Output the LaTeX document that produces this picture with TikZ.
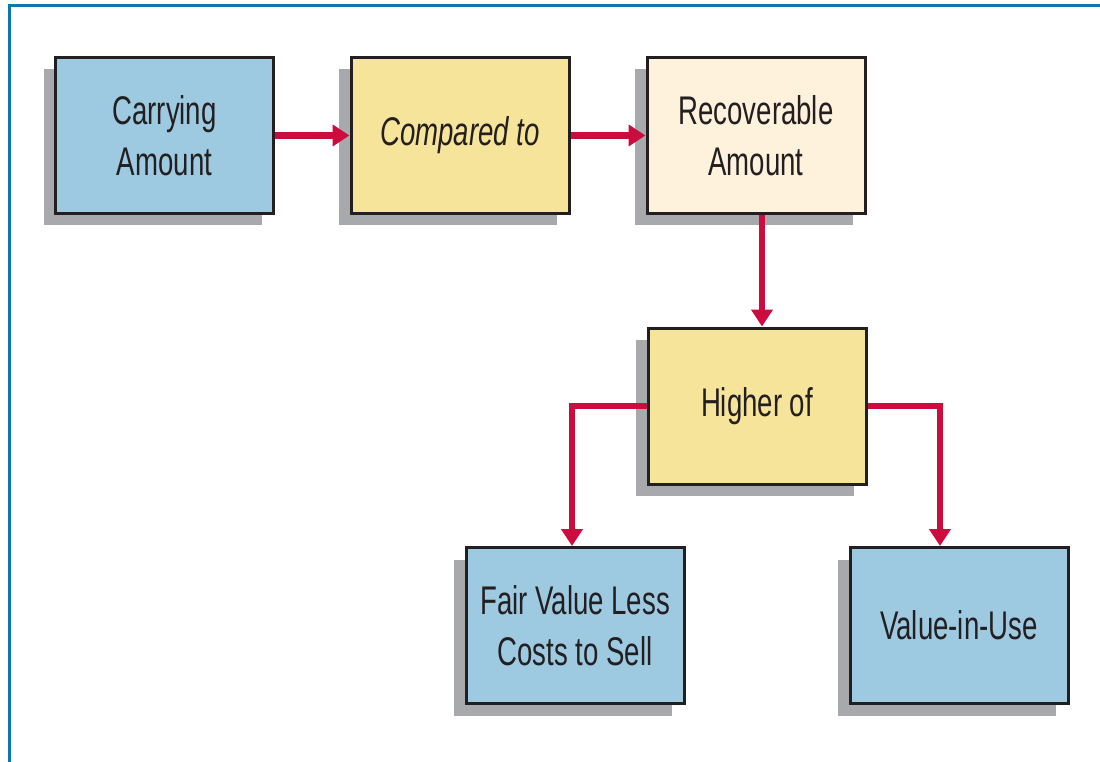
\documentclass[tikz,border=0pt]{standalone}
\usepackage{fontspec}
\setmainfont{Liberation Sans}[FakeStretch=0.69]
\usetikzlibrary{arrows.meta,shadows}
\definecolor{frameBlue}{HTML}{0A78AE}
\definecolor{boxBlue}{HTML}{9DC9E1}
\definecolor{boxYellow}{HTML}{F5E49A}
\definecolor{boxCream}{HTML}{FEF2DC}
\definecolor{boxLine}{HTML}{231F20}
\definecolor{shadowGrey}{HTML}{A7A9AC}
\definecolor{flowRed}{HTML}{CC0C3F}

\begin{document}
\begin{tikzpicture}[x=1pt, y=-1pt,
	box/.style={draw=boxLine, line width=3pt, minimum width=218pt, minimum height=156pt,
		align=center, text=boxLine, font=\fontsize{40}{51}\selectfont,
		drop shadow={shadow xshift=-12pt, shadow yshift=-12pt, fill=shadowGrey, opacity=1}},
	flow/.style={draw=flowRed, line width=6.5pt, -{Triangle[length=17pt,width=21pt]}}]
	\useasboundingbox (0,0) rectangle (1100,762);
	% frame
	\draw[frameBlue, line width=3pt] (9,762) -- (9,6) -- (1100,6);

	\node[box, fill=boxBlue]   (carry)   at (164.5,135.5) {Carrying\\Amount};
	\node[box, fill=boxYellow] (compare) at (460,135.5)   {\itshape Compared to};
	\node[box, fill=boxCream]  (recover) at (756,135.5)   {Recoverable\\Amount};
	\node[box, fill=boxYellow] (higher)  at (757,406)     {Higher of};
	\node[box, fill=boxBlue]   (fair)    at (575,625.5)   {Fair Value Less\\Costs to Sell};
	\node[box, fill=boxBlue]   (use)     at (959,625.5)   {Value-in-Use};

	\draw[flow] (carry) -- (compare);
	\draw[flow] (compare) -- (recover);
	\draw[flow] ([xshift=6pt]recover.south) -- ([xshift=5pt]higher.north);
	\draw[flow] (higher.west) -| ([xshift=-3pt]fair.north);
	\draw[flow] (higher.east) -| ([xshift=-19pt]use.north);
\end{tikzpicture}
\end{document}
